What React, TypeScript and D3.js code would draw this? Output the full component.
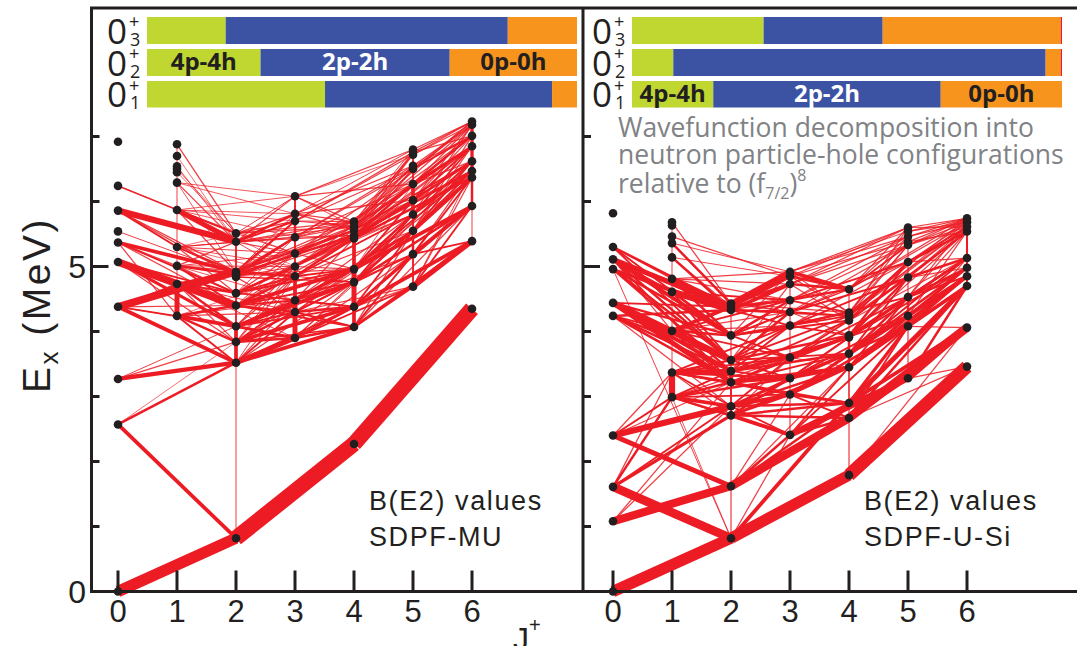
import React from "react";
import * as d3 from "d3";

// ---- Layout constants ----
const W = 1077;
const H = 646;
const RED = "#ed1c24";
const INK = "#231f20";
const GREEN = "#bfd730";
const BLUE = "#3c53a4";
const ORANGE = "#f7941d";
const GRAY = "#808285";

// ---- Axis data ----
const spins = [0, 1, 2, 3, 4, 5, 6];
const energyTicks = [1, 2, 3, 4, 5, 6, 7];
const energyLabels = [0, 5];

// ---- Configuration decomposition of the 0+ states ----
const configNames = ["4p-4h", "2p-2h", "0p-0h", "other"];
const configColors = [GREEN, BLUE, ORANGE, RED];
const stateNames = ["3", "2", "1"]; // rows from top: 0+_3, 0+_2, 0+_1
const decompMU = [
  [0.183, 0.656, 0.161, 0],
  [0.264, 0.44, 0.296, 0],
  [0.414, 0.528, 0.058, 0],
];
const decompSi = [
  [0.306, 0.277, 0.414, 0.003],
  [0.096, 0.866, 0.035, 0.003],
  [0.189, 0.529, 0.282, 0],
];

// ---- Level energies (MeV), indexed by J ----
const levelsMU = [
  [0, 2.57, 3.27, 4.38, 5.07, 5.37, 5.54, 5.86, 6.24, 6.92],
  [4.24, 4.73, 5.01, 5.3, 5.87, 6.29, 6.45, 6.5, 6.54, 6.7, 6.88],
  [0.82, 3.52, 3.84, 4.08, 4.4, 4.59, 4.84, 4.88, 4.92, 5.38, 5.51],
  [3.9, 4.3, 4.48, 4.85, 5.0, 5.2, 5.45, 5.7, 5.81, 6.08],
  [2.27, 4.07, 4.38, 4.76, 4.96, 5.43, 5.48, 5.56, 5.62, 5.69],
  [4.69, 5.19, 5.55, 5.8, 6.02, 6.27, 6.5, 6.55, 6.72, 6.76, 6.8],
  [4.35, 5.39, 5.93, 6.37, 6.47, 6.62, 6.85, 7.01, 7.18, 7.23],
];
const levelsSi = [
  [0, 1.08, 1.61, 2.4, 4.24, 4.44, 4.96, 5.11, 5.3, 5.82],
  [2.99, 3.37, 4.01, 4.61, 4.81, 5.14, 5.36, 5.46, 5.63, 5.68],
  [0.82, 1.62, 2.71, 2.85, 3.22, 3.39, 3.56, 3.94, 4.33, 4.38, 4.43],
  [2.41, 3.03, 3.28, 3.6, 4.09, 4.3, 4.48, 4.73, 4.85, 4.92],
  [1.79, 2.67, 2.9, 3.45, 3.66, 3.91, 3.94, 4.17, 4.24, 4.29, 4.65],
  [3.28, 4.08, 4.24, 4.53, 4.83, 5.07, 5.33, 5.38, 5.46, 5.54, 5.6],
  [3.46, 4.06, 4.7, 4.85, 4.98, 5.13, 5.54, 5.61, 5.68, 5.74],
];

// ---- E2 transitions: [J_i, E_i, J_f, E_f, relative B(E2)] ----
type Trans = [number, number, number, number, number];
const transMU: Trans[] = [
  // yrast band and low-lying 0+ states
  [0, 0, 2, 0.82, 9], [2, 0.82, 4, 2.27, 12.5], [4, 2.27, 6, 4.35, 12.5],
  [0, 2.57, 2, 0.82, 3], [0, 2.57, 2, 3.52, 2], [0, 2.57, 2, 3.84, 0.6],
  [0, 3.27, 2, 3.52, 3.5], [0, 3.27, 2, 3.84, 1], [0, 3.27, 2, 4.08, 0.8],
  [2, 0.82, 2, 3.52, 0.8],
  // J = 0, 1 -> J = 1, 2
  [0, 4.38, 2, 4.92, 6], [0, 4.38, 2, 3.52, 3], [0, 4.38, 1, 4.24, 1.2], [0, 4.38, 2, 4.08, 1],
  [0, 5.07, 2, 4.4, 6], [0, 5.07, 2, 4.08, 2.5], [0, 5.07, 1, 4.73, 2], [0, 5.07, 2, 4.59, 1.5],
  [0, 5.37, 2, 4.92, 3], [0, 5.37, 2, 4.59, 1.5], [0, 5.37, 1, 5.01, 1],
  [0, 5.86, 2, 5.38, 5], [0, 5.86, 1, 5.3, 1.5], [0, 5.86, 2, 4.84, 1],
  [0, 6.24, 2, 5.51, 1], [0, 5.54, 2, 4.88, 0.8],
  [0, 5.86, 2, 4.92, 1], [0, 5.07, 2, 3.84, 1], [0, 5.37, 2, 4.4, 1], [0, 4.38, 2, 4.4, 1],
  [0, 4.38, 1, 4.73, 1.5], [0, 6.24, 1, 5.87, 1], [0, 5.37, 1, 4.24, 1],
  [1, 6.88, 2, 5.51, 1], [1, 6.7, 2, 5.38, 0.6], [1, 6.29, 2, 5.38, 1], [1, 6.45, 2, 5.51, 0.6],
  [1, 5.87, 2, 5.38, 4], [1, 5.87, 2, 5.51, 1.5], [1, 5.3, 2, 4.92, 1.5], [1, 5.3, 2, 4.59, 1],
  [1, 5.01, 2, 4.88, 2], [1, 5.01, 2, 4.4, 1.5], [1, 4.73, 2, 4.4, 3], [1, 4.73, 2, 4.08, 2],
  [1, 4.73, 2, 4.92, 2], [1, 4.24, 2, 4.08, 3], [1, 4.24, 2, 3.84, 2], [1, 4.24, 2, 4.4, 2],
  [1, 4.24, 1, 4.73, 4], [1, 4.73, 1, 6.88, 0.8],
  [1, 5.87, 2, 4.92, 1], [1, 5.3, 2, 5.38, 1], [1, 5.3, 2, 4.88, 1], [1, 5.01, 2, 4.59, 1],
  [1, 5.01, 2, 5.38, 1], [1, 4.73, 2, 4.59, 1.5], [1, 4.24, 2, 3.52, 1.5], [1, 4.73, 2, 3.84, 1],
  [1, 6.29, 2, 4.92, 0.7], [1, 6.5, 2, 5.51, 0.7], [1, 6.54, 2, 5.38, 0.7],
  // J = 1 -> J = 3
  [1, 5.87, 3, 5.81, 0.7], [1, 5.87, 3, 5.7, 0.7], [1, 5.87, 3, 5.45, 0.7], [1, 5.87, 3, 6.08, 0.7],
  [1, 5.87, 3, 5.2, 0.6], [1, 5.3, 3, 5.45, 0.8], [1, 5.3, 3, 5.2, 0.8], [1, 5.3, 3, 5.0, 0.7],
  [1, 5.3, 3, 4.85, 0.6], [1, 5.01, 3, 4.85, 1], [1, 5.01, 3, 5.0, 0.8], [1, 5.01, 3, 4.48, 0.7],
  [1, 4.73, 3, 4.48, 1], [1, 4.73, 3, 4.3, 0.8], [1, 4.73, 3, 5.2, 0.7],
  [1, 4.24, 3, 4.3, 1], [1, 4.24, 3, 3.9, 1], [1, 4.24, 3, 4.48, 0.8],
  [1, 6.29, 3, 6.08, 0.7], [1, 6.29, 3, 5.81, 0.7], [1, 5.87, 3, 5.0, 0.6], [1, 5.3, 3, 5.7, 0.6],
  [1, 5.01, 3, 5.2, 0.8], [1, 4.73, 3, 3.9, 0.8], [1, 4.24, 3, 4.85, 0.6],
  // J = 2 -> J = 3, 4
  [2, 3.52, 2, 5.51, 1.5], [2, 3.52, 2, 4.08, 3], [2, 3.52, 3, 3.9, 4], [2, 3.52, 4, 4.07, 3],
  [2, 3.52, 3, 4.3, 1.5], [2, 3.84, 4, 4.38, 3], [2, 3.84, 3, 4.3, 2], [2, 3.84, 3, 3.9, 2],
  [2, 4.08, 4, 4.76, 3], [2, 4.08, 3, 4.48, 2], [2, 4.08, 3, 3.9, 2.5],
  [2, 4.4, 4, 4.96, 3], [2, 4.4, 3, 4.85, 2], [2, 4.4, 3, 4.3, 1.5],
  [2, 4.59, 3, 5.0, 2], [2, 4.59, 4, 5.43, 1], [2, 4.84, 3, 4.3, 1],
  [2, 4.88, 4, 5.48, 2], [2, 4.88, 3, 5.45, 2], [2, 4.92, 3, 5.7, 1.5], [2, 4.92, 4, 5.56, 1.5],
  [2, 4.92, 3, 4.85, 2], [2, 5.38, 3, 5.81, 2], [2, 5.38, 3, 6.08, 1], [2, 5.38, 3, 5.2, 1],
  [2, 5.38, 4, 5.62, 1], [2, 5.51, 4, 5.69, 1], [2, 5.51, 3, 6.08, 0.8],
  [2, 4.4, 4, 4.07, 1.5], [2, 4.59, 4, 4.38, 1], [2, 4.84, 4, 4.76, 1.2], [2, 3.84, 4, 4.07, 1.2],
  [2, 3.52, 3, 4.48, 1], [2, 3.52, 3, 4.85, 0.8], [2, 3.84, 3, 4.48, 1.5], [2, 3.84, 3, 4.85, 1],
  [2, 3.84, 3, 5.0, 0.8], [2, 4.08, 3, 4.3, 1.5], [2, 4.08, 3, 4.85, 1], [2, 4.08, 3, 5.0, 1],
  [2, 4.4, 3, 4.48, 1.5], [2, 4.4, 3, 5.0, 1], [2, 4.4, 3, 5.2, 0.8], [2, 4.59, 3, 4.48, 1],
  [2, 4.59, 3, 4.85, 1.5], [2, 4.59, 3, 5.2, 1], [2, 4.59, 3, 5.45, 0.8], [2, 4.84, 3, 5.0, 1],
  [2, 4.84, 3, 5.2, 1], [2, 4.84, 3, 5.45, 1], [2, 4.88, 3, 4.85, 1], [2, 4.88, 3, 5.7, 1],
  [2, 4.92, 3, 5.45, 1], [2, 4.92, 3, 5.81, 0.8], [2, 5.38, 3, 5.45, 1], [2, 5.38, 3, 5.7, 1.5],
  [2, 5.51, 3, 5.81, 1], [2, 5.51, 3, 5.7, 1], [2, 5.38, 3, 4.85, 0.8], [2, 5.51, 3, 5.2, 0.8],
  [2, 3.52, 4, 4.38, 1.5], [2, 3.84, 4, 4.76, 1.5], [2, 4.08, 4, 4.38, 1.5], [2, 4.08, 4, 4.96, 1],
  [2, 4.4, 4, 4.76, 1.5], [2, 4.4, 4, 5.43, 1], [2, 4.59, 4, 4.96, 1.5], [2, 4.59, 4, 5.48, 1],
  [2, 4.84, 4, 5.43, 1], [2, 4.84, 4, 5.56, 1], [2, 4.88, 4, 4.96, 1], [2, 4.92, 4, 5.62, 1],
  [2, 4.92, 4, 5.69, 1], [2, 5.38, 4, 5.48, 1], [2, 5.38, 4, 5.69, 1], [2, 5.51, 4, 5.62, 1],
  [2, 3.52, 4, 4.76, 1], [2, 3.84, 4, 4.96, 1],
  // J = 3 -> J = 4, 5
  [3, 3.9, 3, 4.48, 4], [3, 4.48, 3, 6.08, 1.5], [3, 4.48, 3, 4.85, 3], [3, 5.45, 3, 5.81, 2],
  [3, 3.9, 4, 4.07, 2], [3, 3.9, 5, 4.69, 1.5],
  [3, 4.3, 4, 4.38, 2], [3, 4.3, 4, 4.76, 1.5], [3, 4.48, 4, 4.96, 2], [3, 4.85, 4, 5.43, 1.5],
  [3, 5.0, 4, 5.48, 1.5], [3, 5.2, 4, 5.56, 1], [3, 5.45, 4, 5.62, 1], [3, 5.7, 4, 5.69, 1],
  [3, 4.85, 4, 4.76, 1], [3, 5.0, 4, 4.96, 1],
  [3, 3.9, 4, 4.38, 2], [3, 3.9, 4, 4.76, 1], [3, 4.3, 4, 4.07, 1.5], [3, 4.3, 4, 4.96, 1],
  [3, 4.48, 4, 4.38, 1.5], [3, 4.48, 4, 4.76, 1.5], [3, 4.48, 4, 5.43, 1], [3, 4.85, 4, 4.96, 1.5],
  [3, 4.85, 4, 5.48, 1], [3, 5.0, 4, 5.43, 1], [3, 5.0, 4, 5.56, 1], [3, 5.2, 4, 4.96, 1],
  [3, 5.2, 4, 5.43, 1], [3, 5.2, 4, 5.62, 1], [3, 5.45, 4, 5.48, 1], [3, 5.45, 4, 5.69, 1],
  [3, 5.7, 4, 5.62, 1], [3, 5.81, 4, 5.69, 1], [3, 5.81, 4, 5.56, 1], [3, 6.08, 4, 5.69, 1],
  [3, 6.08, 4, 5.62, 0.8],
  [3, 5.81, 5, 6.02, 1], [3, 6.08, 5, 6.27, 1],
  [3, 5.45, 5, 6.5, 1], [3, 5.7, 5, 6.76, 1], [3, 5.81, 5, 6.8, 0.8], [3, 5.0, 5, 5.8, 1],
  [3, 4.85, 5, 5.55, 1], [3, 4.48, 5, 5.19, 1], [3, 4.3, 5, 4.69, 1], [3, 5.2, 5, 6.02, 0.8],
  [3, 6.08, 5, 6.72, 0.7],
  [3, 3.9, 5, 5.19, 1], [3, 4.3, 5, 5.19, 1], [3, 4.3, 5, 5.55, 1], [3, 4.48, 5, 5.55, 1.5],
  [3, 4.48, 5, 5.8, 1], [3, 4.85, 5, 5.8, 1.5], [3, 4.85, 5, 6.02, 1], [3, 5.0, 5, 6.02, 1],
  [3, 5.0, 5, 6.27, 1], [3, 5.2, 5, 6.27, 1], [3, 5.2, 5, 6.5, 1], [3, 5.45, 5, 6.27, 1],
  [3, 5.45, 5, 6.55, 1], [3, 5.7, 5, 6.5, 1], [3, 5.7, 5, 6.72, 1], [3, 5.81, 5, 6.55, 1],
  [3, 6.08, 5, 6.8, 1], [3, 3.9, 5, 5.55, 0.8],
  // J = 4 -> J = 5, 6
  [4, 4.07, 4, 5.69, 3], [4, 4.38, 4, 4.96, 4], [4, 4.07, 5, 4.69, 2], [4, 4.07, 6, 5.39, 2],
  [4, 4.38, 5, 5.19, 2], [4, 4.38, 6, 5.39, 3], [4, 4.76, 5, 5.55, 2], [4, 4.76, 6, 5.93, 2],
  [4, 4.96, 6, 5.93, 3], [4, 4.96, 5, 5.8, 2], [4, 5.43, 6, 6.37, 2], [4, 5.48, 6, 6.47, 2],
  [4, 5.56, 6, 6.62, 1.5], [4, 5.62, 6, 6.85, 1.5], [4, 5.69, 6, 7.01, 1], [4, 5.43, 5, 6.02, 1.5],
  [4, 5.48, 5, 6.27, 1.5], [4, 5.56, 5, 6.5, 1], [4, 5.62, 5, 6.55, 1], [4, 5.69, 5, 6.72, 1],
  [4, 5.69, 5, 6.8, 0.8], [4, 5.48, 5, 6.76, 0.7], [4, 4.96, 5, 6.27, 0.7], [4, 4.38, 5, 4.69, 1],
  [4, 4.07, 5, 5.19, 1.5], [4, 4.38, 5, 5.55, 1.5], [4, 4.76, 5, 5.19, 1.5], [4, 4.76, 5, 5.8, 1.5],
  [4, 4.96, 5, 5.55, 1.5], [4, 4.96, 5, 6.02, 1.5], [4, 5.43, 5, 5.8, 1], [4, 5.43, 5, 6.27, 1],
  [4, 5.48, 5, 6.02, 1], [4, 5.56, 5, 6.27, 1], [4, 5.56, 5, 6.72, 1], [4, 5.62, 5, 6.76, 1],
  [4, 5.69, 5, 6.55, 1], [4, 5.43, 5, 6.5, 1], [4, 4.07, 5, 5.55, 1],
  [4, 4.07, 6, 5.93, 1], [4, 4.38, 6, 5.93, 1.5], [4, 4.76, 6, 6.37, 1.5], [4, 4.96, 6, 6.47, 1.5],
  [4, 5.43, 6, 6.62, 1.5], [4, 5.43, 6, 6.85, 1], [4, 5.48, 6, 6.85, 1], [4, 5.56, 6, 7.01, 1],
  [4, 5.62, 6, 7.18, 1], [4, 5.69, 6, 7.23, 1], [4, 5.48, 6, 7.01, 1], [4, 5.56, 6, 6.47, 1],
  [4, 4.76, 6, 6.62, 1], [4, 4.96, 6, 6.37, 1],
  // J = 5 -> J = 6
  [5, 4.69, 6, 5.39, 4], [5, 4.69, 6, 5.93, 1.5], [5, 5.19, 6, 5.93, 3], [5, 5.19, 6, 5.39, 1.5],
  [5, 5.55, 6, 6.37, 3], [5, 5.8, 6, 6.47, 2], [5, 6.02, 6, 6.62, 2], [5, 6.27, 6, 6.85, 2],
  [5, 6.5, 6, 7.01, 1.5], [5, 6.55, 6, 7.18, 1], [5, 6.72, 6, 7.23, 1], [5, 6.8, 6, 7.23, 1],
  [5, 6.02, 6, 7.01, 1], [5, 5.55, 6, 6.85, 1], [5, 5.8, 6, 7.18, 1], [5, 5.19, 6, 6.47, 1],
  [5, 4.69, 6, 6.37, 1], [5, 5.19, 6, 6.37, 1.5], [5, 5.55, 6, 6.47, 1.5], [5, 5.55, 6, 6.62, 1.5],
  [5, 5.8, 6, 6.62, 1.5], [5, 5.8, 6, 6.85, 1.5], [5, 6.02, 6, 6.85, 1.5], [5, 6.02, 6, 7.18, 1],
  [5, 6.27, 6, 7.01, 1.5], [5, 6.27, 6, 7.18, 1], [5, 6.5, 6, 7.18, 1], [5, 6.5, 6, 7.23, 1],
  [5, 6.55, 6, 7.01, 1], [5, 6.72, 6, 7.18, 1], [5, 6.76, 6, 7.23, 1], [5, 6.76, 6, 7.01, 1],
  [5, 4.69, 6, 6.47, 0.8], [5, 5.55, 6, 7.01, 1], [5, 6.27, 6, 6.62, 1],
  [5, 4.69, 5, 6.8, 1.5], [5, 5.8, 5, 6.27, 3], [5, 5.19, 5, 5.55, 2],
  [6, 5.39, 6, 5.93, 0.8], [6, 5.93, 6, 7.23, 2], [6, 6.37, 6, 7.23, 2.5],
];

const transSi: Trans[] = [
  // yrast band and low-lying 0+ states
  [0, 0, 2, 0.82, 9], [2, 0.82, 4, 1.79, 9], [4, 1.79, 6, 3.46, 10.5],
  [0, 1.08, 2, 1.62, 6.5], [0, 1.61, 2, 0.82, 7], [0, 1.61, 2, 2.71, 2.5], [0, 1.61, 1, 2.99, 2],
  [0, 1.08, 2, 2.85, 1], [0, 2.4, 2, 2.85, 5], [0, 2.4, 2, 1.62, 4], [0, 2.4, 1, 2.99, 1.5],
  [0, 2.4, 2, 3.22, 1], [0, 4.96, 2, 0.82, 0.8],
  [0, 2.4, 1, 3.37, 1], [0, 1.61, 2, 2.85, 1.5], [0, 1.08, 2, 3.22, 1], [0, 1.61, 1, 3.37, 1],
  // J = 0 -> J = 1, 2
  [0, 5.3, 2, 4.38, 2], [0, 5.3, 1, 4.81, 1],
  [0, 5.11, 2, 4.38, 4], [0, 5.11, 2, 3.94, 3], [0, 5.11, 2, 3.56, 2], [0, 5.11, 2, 3.22, 1.5],
  [0, 4.96, 2, 3.39, 2], [0, 4.96, 1, 4.61, 1.5], [0, 4.44, 2, 3.56, 5], [0, 4.44, 2, 3.22, 4],
  [0, 4.44, 2, 4.38, 1.5], [0, 4.24, 2, 4.33, 2], [0, 4.24, 2, 3.39, 2], [0, 4.24, 2, 2.85, 1],
  [0, 5.3, 2, 3.94, 1.5], [0, 5.11, 2, 4.33, 2], [0, 4.96, 2, 3.94, 2], [0, 4.96, 2, 3.56, 2],
  [0, 4.44, 2, 3.94, 2], [0, 4.44, 2, 3.39, 3], [0, 4.24, 2, 3.56, 2], [0, 4.24, 2, 3.22, 2],
  [0, 5.3, 2, 3.56, 1.5], [0, 4.96, 2, 4.33, 2], [0, 5.11, 1, 4.61, 1.5], [0, 5.11, 1, 4.01, 1],
  [0, 4.44, 1, 4.01, 2], [0, 4.24, 1, 4.01, 1.5],
  // J = 1 -> J = 2, 3
  [1, 5.46, 3, 4.85, 1], [1, 5.14, 2, 4.38, 1], [1, 4.81, 2, 4.38, 4], [1, 4.61, 2, 4.33, 5],
  [1, 4.81, 3, 4.48, 1], [1, 4.61, 3, 4.3, 1], [1, 4.01, 2, 3.56, 2], [1, 4.01, 2, 4.38, 3],
  [1, 4.01, 3, 4.48, 1.5], [1, 4.01, 3, 4.09, 1], [1, 3.37, 2, 3.39, 4], [1, 3.37, 2, 3.22, 2],
  [1, 3.37, 3, 3.6, 1.5], [1, 3.37, 3, 4.09, 1.5], [1, 2.99, 2, 2.85, 3], [1, 2.99, 2, 3.22, 2],
  [1, 2.99, 3, 3.28, 2], [1, 2.99, 3, 3.03, 1.5], [1, 2.99, 1, 3.37, 5], [1, 3.37, 1, 5.68, 0.8],
  [1, 2.99, 2, 0.82, 0.7],
  [1, 5.68, 2, 4.43, 1], [1, 5.36, 2, 4.43, 2], [1, 5.14, 2, 4.33, 2], [1, 4.81, 2, 3.94, 2],
  [1, 4.61, 2, 3.94, 2], [1, 4.61, 2, 3.56, 1.5], [1, 4.01, 2, 3.94, 2], [1, 4.01, 2, 3.22, 1.5],
  [1, 3.37, 2, 3.56, 2], [1, 3.37, 2, 2.85, 1.5], [1, 2.99, 2, 2.71, 2], [1, 2.99, 2, 3.39, 1.5],
  [1, 3.37, 2, 2.71, 1],
  [1, 4.81, 3, 4.73, 1], [1, 4.81, 3, 4.92, 1], [1, 4.61, 3, 4.48, 1.5], [1, 4.01, 3, 3.6, 1.5],
  [1, 4.01, 3, 4.3, 1], [1, 3.37, 3, 3.28, 2], [1, 3.37, 3, 3.03, 1.5], [1, 2.99, 3, 3.6, 1],
  [1, 2.99, 3, 2.41, 1.5], [1, 5.14, 3, 4.85, 0.8], [1, 5.36, 3, 4.92, 0.8],
  // J = 2 -> J = 3, 4
  [2, 0.82, 2, 4.43, 1], [2, 3.22, 2, 3.39, 3], [2, 0.82, 4, 2.9, 3], [2, 0.82, 3, 2.41, 1],
  [2, 1.62, 4, 2.67, 7], [2, 1.62, 3, 2.41, 2], [2, 1.62, 3, 3.03, 1], [2, 2.71, 3, 2.41, 3],
  [2, 2.71, 4, 2.9, 2], [2, 2.71, 3, 3.28, 2], [2, 2.85, 3, 3.03, 3], [2, 2.85, 4, 3.45, 2],
  [2, 2.85, 3, 3.6, 1.5], [2, 3.22, 4, 3.45, 3], [2, 3.22, 3, 3.28, 2], [2, 3.22, 4, 3.66, 1.5],
  [2, 3.39, 4, 3.91, 2], [2, 3.39, 3, 4.09, 1.5], [2, 3.56, 3, 4.3, 2], [2, 3.56, 4, 3.94, 2],
  [2, 3.94, 3, 4.48, 2], [2, 3.94, 4, 4.17, 1.5], [2, 4.33, 3, 4.73, 3], [2, 4.38, 3, 4.85, 3],
  [2, 4.43, 3, 4.92, 4], [2, 4.38, 4, 4.65, 1], [2, 4.33, 4, 4.24, 1.5], [2, 3.94, 4, 4.29, 1],
  [2, 3.56, 3, 3.6, 1], [2, 2.71, 2, 3.39, 1.5],
  [2, 4.43, 3, 4.85, 2], [2, 4.43, 3, 4.73, 2], [2, 4.38, 3, 4.48, 2], [2, 4.33, 3, 4.3, 2],
  [2, 4.33, 3, 4.09, 1.5], [2, 3.94, 3, 4.09, 2], [2, 3.94, 3, 4.3, 1.5], [2, 3.94, 3, 3.6, 1.5],
  [2, 3.56, 3, 4.09, 1.5], [2, 3.56, 3, 3.28, 1.5], [2, 3.39, 3, 3.6, 2], [2, 3.39, 3, 3.28, 1.5],
  [2, 3.22, 3, 3.6, 1.5], [2, 3.22, 3, 3.03, 1.5], [2, 2.85, 3, 3.28, 2], [2, 2.85, 3, 2.41, 1.5],
  [2, 2.71, 3, 3.03, 2], [2, 3.39, 3, 4.48, 1], [2, 3.56, 3, 4.73, 1], [2, 3.94, 3, 4.92, 1],
  [2, 4.43, 3, 4.3, 1], [2, 2.71, 3, 3.6, 1],
  [2, 2.71, 4, 3.45, 2], [2, 2.85, 4, 2.9, 2], [2, 2.85, 4, 3.66, 1.5], [2, 3.22, 4, 3.91, 1.5],
  [2, 3.39, 4, 3.66, 2], [2, 3.39, 4, 4.17, 1.5], [2, 3.56, 4, 4.24, 1.5], [2, 3.56, 4, 3.66, 1.5],
  [2, 3.94, 4, 4.65, 1], [2, 4.33, 4, 4.65, 1], [2, 4.43, 4, 4.29, 1], [2, 3.22, 4, 2.9, 1.5],
  [2, 2.71, 4, 2.67, 2], [2, 1.62, 4, 2.9, 2], [2, 1.62, 4, 3.45, 1],
  // J = 3 -> J = 4, 5
  [3, 2.41, 5, 3.28, 5], [3, 2.41, 4, 2.67, 2], [3, 2.41, 4, 2.9, 2], [3, 2.41, 3, 4.92, 1],
  [3, 3.03, 4, 3.45, 2], [3, 3.03, 5, 4.08, 2], [3, 3.28, 4, 3.66, 2], [3, 3.28, 5, 4.24, 1.5],
  [3, 3.6, 4, 3.91, 1.5], [3, 3.6, 5, 4.53, 1.5], [3, 4.09, 4, 4.24, 1.5], [3, 4.09, 5, 4.83, 1.5],
  [3, 4.3, 5, 5.07, 1], [3, 4.48, 5, 5.33, 1], [3, 4.73, 5, 5.46, 1], [3, 4.85, 5, 5.6, 1],
  [3, 4.92, 4, 4.65, 3], [3, 4.85, 4, 4.29, 1], [3, 4.73, 4, 4.17, 1], [3, 4.3, 4, 3.94, 1],
  [3, 4.92, 5, 5.54, 0.8], [3, 3.6, 4, 3.45, 1],
  [3, 2.41, 4, 3.45, 1.5], [3, 3.03, 4, 2.9, 2], [3, 3.03, 4, 3.66, 2], [3, 3.28, 4, 3.45, 2],
  [3, 3.28, 4, 3.91, 1.5], [3, 3.6, 4, 3.94, 1.5], [3, 3.6, 4, 4.17, 1.5], [3, 4.09, 4, 3.94, 1.5],
  [3, 4.09, 4, 4.29, 1.5], [3, 4.3, 4, 4.24, 1.5], [3, 4.3, 4, 4.65, 1], [3, 4.48, 4, 4.29, 1.5],
  [3, 4.48, 4, 4.65, 1.5], [3, 4.73, 4, 4.65, 2], [3, 4.85, 4, 4.65, 2], [3, 4.92, 4, 4.29, 1],
  [3, 3.03, 4, 2.67, 1.5],
  [3, 2.41, 5, 4.08, 1.5], [3, 3.03, 5, 4.24, 1.5], [3, 3.28, 5, 4.08, 2], [3, 3.28, 5, 4.53, 1.5],
  [3, 3.6, 5, 4.24, 1.5], [3, 3.6, 5, 4.83, 1], [3, 4.09, 5, 4.53, 1.5], [3, 4.09, 5, 5.07, 1],
  [3, 4.3, 5, 4.83, 1.5], [3, 4.3, 5, 5.33, 1], [3, 4.48, 5, 5.07, 1.5], [3, 4.48, 5, 5.46, 1],
  [3, 4.73, 5, 5.33, 1], [3, 4.73, 5, 5.6, 1], [3, 4.85, 5, 5.38, 1], [3, 4.92, 5, 5.46, 1],
  [3, 4.92, 5, 5.6, 1],
  // J = 4 -> J = 5, 6
  [4, 1.79, 4, 4.65, 1], [4, 3.45, 4, 3.94, 2], [4, 2.67, 6, 4.06, 7], [4, 2.67, 5, 3.28, 3],
  [4, 2.9, 6, 4.7, 4], [4, 2.9, 5, 4.08, 2.5], [4, 3.45, 6, 4.85, 3], [4, 3.45, 5, 4.24, 2],
  [4, 3.66, 6, 4.98, 2], [4, 3.66, 5, 4.53, 2], [4, 3.91, 6, 5.13, 2], [4, 3.91, 5, 4.83, 1.5],
  [4, 3.94, 5, 5.07, 1.5], [4, 4.17, 6, 5.54, 1.5], [4, 4.24, 5, 5.33, 1], [4, 4.29, 6, 5.61, 1],
  [4, 4.65, 6, 5.74, 1], [4, 4.65, 5, 5.6, 1], [4, 4.29, 5, 5.46, 1], [4, 2.9, 4, 3.45, 1],
  [4, 2.9, 5, 3.28, 2], [4, 3.45, 5, 4.08, 2], [4, 3.45, 5, 4.53, 1.5], [4, 3.66, 5, 4.24, 2],
  [4, 3.66, 5, 4.83, 1.5], [4, 3.91, 5, 4.53, 1.5], [4, 3.91, 5, 5.07, 1], [4, 3.94, 5, 4.83, 1.5],
  [4, 4.17, 5, 4.83, 1.5], [4, 4.17, 5, 5.07, 1.5], [4, 4.24, 5, 5.07, 1.5], [4, 4.29, 5, 5.33, 1],
  [4, 4.65, 5, 5.33, 1.5], [4, 4.65, 5, 5.46, 1], [4, 4.24, 5, 5.6, 1], [4, 2.67, 5, 4.08, 1.5],
  [4, 2.67, 6, 4.7, 2], [4, 2.9, 6, 4.06, 3], [4, 3.45, 6, 4.7, 2], [4, 3.45, 6, 4.98, 1.5],
  [4, 3.66, 6, 4.85, 2], [4, 3.66, 6, 5.13, 1.5], [4, 3.91, 6, 4.98, 1.5], [4, 3.94, 6, 5.13, 1.5],
  [4, 3.94, 6, 5.54, 1], [4, 4.17, 6, 5.13, 1], [4, 4.24, 6, 5.61, 1], [4, 4.24, 6, 5.68, 1],
  [4, 4.29, 6, 5.74, 1], [4, 4.65, 6, 5.68, 1], [4, 1.79, 6, 4.06, 1], [4, 2.67, 6, 3.46, 1],
  // J = 5 -> J = 6
  [5, 3.28, 6, 4.06, 5], [5, 3.28, 6, 3.46, 1], [5, 3.28, 5, 4.08, 1], [5, 4.08, 5, 4.53, 2],
  [5, 4.08, 6, 4.7, 3], [5, 4.08, 6, 4.06, 1], [5, 4.24, 6, 4.85, 3], [5, 4.53, 6, 4.98, 2],
  [5, 4.53, 6, 5.54, 1], [5, 4.83, 6, 5.13, 2], [5, 4.83, 6, 5.61, 1], [5, 5.07, 6, 5.54, 2],
  [5, 5.07, 6, 5.68, 1], [5, 5.33, 6, 5.74, 1], [5, 5.46, 6, 5.74, 1], [5, 5.6, 6, 5.74, 1],
  [5, 5.54, 6, 5.68, 1], [5, 4.24, 5, 5.6, 1], [6, 4.7, 6, 5.74, 1.5],
  [5, 3.28, 6, 4.7, 2], [5, 4.08, 6, 4.85, 2], [5, 4.08, 6, 5.13, 1], [5, 4.24, 6, 4.98, 2],
  [5, 4.24, 6, 5.54, 1], [5, 4.53, 6, 5.13, 1.5], [5, 4.53, 6, 4.85, 1.5], [5, 4.83, 6, 5.54, 1.5],
  [5, 4.83, 6, 4.98, 1], [5, 5.07, 6, 5.61, 1.5], [5, 5.07, 6, 5.13, 1], [5, 5.33, 6, 5.61, 1],
  [5, 5.33, 6, 5.68, 1], [5, 5.38, 6, 5.74, 1], [5, 5.38, 6, 5.54, 1], [5, 5.46, 6, 5.68, 1],
  [5, 5.54, 6, 5.74, 1], [5, 5.6, 6, 5.61, 1], [5, 4.53, 6, 5.68, 1],
  [6, 5.13, 6, 5.74, 1.5],
];

// ---- Shared scales ----
const yScale = d3.scaleLinear().domain([0, 7]).range([591.5, 136.5]);
const widthScale = d3.scaleLinear().domain([0, 1]).range([0, 1.25]);
const Y_AXIS_BOTTOM = yScale(0);
const FRAME_TOP = 8;

type PanelProps = {
  axisX: number;
  xRange: [number, number];
  levels: number[][];
  trans: Trans[];
  decomp: number[][];
  barRange: [number, number];
  labelRow: number;
  modelName: string;
  showTickLabelsY: boolean;
};

const BAR_ROWS: [number, number][] = [
  [17, 44],
  [49, 76],
  [81, 107.5],
];

const SANS = "'Liberation Sans', Arial, sans-serif";
const MYRIAD = "'Open Sans', sans-serif";

function Panel(p: PanelProps) {
  const x = d3.scaleLinear().domain([0, 6]).range(p.xRange);
  const bx = d3.scaleLinear().domain([0, 1]).range(p.barRange);
  const sorted = [...p.trans].sort((a, b) => a[4] - b[4]);

  return (
    <g>
      {/* configuration bars */}
      {p.decomp.map((row, ri) => {
        const ends = Array.from(d3.cumsum(row));
        const [y0, y1] = BAR_ROWS[ri];
        return (
          <g key={"bar" + ri}>
            {row.map((v, ci) => {
              const start = ci === 0 ? 0 : ends[ci - 1];
              if (v <= 0) return null;
              return (
                <rect
                  key={ci}
                  x={bx(start)}
                  y={y0}
                  width={bx(start + v) - bx(start)}
                  height={y1 - y0}
                  fill={configColors[ci]}
                />
              );
            })}
            <text x={p.barRange[0] - 40} y={y1 - 0.5} fontFamily={MYRIAD} fontSize={35} fill={INK}>0</text>
            <text x={p.barRange[0] - 18} y={y0 + 11} fontFamily={MYRIAD} fontSize={18} fill={INK}>+</text>
            <text x={p.barRange[0] - 17} y={y1 + 1.5} fontFamily={MYRIAD} fontSize={18} fill={INK}>{stateNames[ri]}</text>
            {ri === p.labelRow &&
              row.slice(0, 3).map((v, ci) => {
                const start = ci === 0 ? 0 : ends[ci - 1];
                return (
                  <text
                    key={"t" + ci}
                    x={bx(start + v / 2)}
                    y={y1 - 6}
                    textAnchor="middle"
                    fontFamily={MYRIAD}
                    fontWeight={700}
                    fontSize={24}
                    fill={ci === 1 ? "#ffffff" : INK}
                  >
                    {configNames[ci]}
                  </text>
                );
              })}
          </g>
        );
      })}

      {/* transitions */}
      {sorted.map((t, i) => (
        <line
          key={"tr" + i}
          x1={x(t[0])}
          y1={yScale(t[1])}
          x2={x(t[2])}
          y2={yScale(t[3])}
          stroke={RED}
          strokeWidth={widthScale(t[4])}
          strokeOpacity={t[4] < 1.2 ? 0.85 : 1}
          strokeLinecap="butt"
        />
      ))}

      {/* levels */}
      {p.levels.map((col, j) =>
        col.map((e, k) => (
          <circle key={`lv${j}-${k}`} cx={x(j)} cy={yScale(e)} r={4.3} fill={INK} />
        ))
      )}

      {/* y ticks */}
      {energyTicks.map((t) => (
        <line
          key={"yt" + t}
          x1={p.axisX}
          x2={p.axisX + (t === 5 ? 17 : 8)}
          y1={yScale(t)}
          y2={yScale(t)}
          stroke={INK}
          strokeWidth={3}
        />
      ))}
      {/* x ticks */}
      {spins.map((j) => (
        <g key={"xt" + j}>
          <line x1={x(j)} x2={x(j)} y1={Y_AXIS_BOTTOM} y2={Y_AXIS_BOTTOM - 21} stroke={INK} strokeWidth={3} />
          <text x={x(j)} y={622} textAnchor="middle" fontFamily={SANS} fontSize={31} fill={INK}>
            {j}
          </text>
        </g>
      ))}
      {p.showTickLabelsY &&
        energyLabels.map((e) => (
          <text key={"yl" + e} x={86} y={yScale(e) + 11.5} textAnchor="end" fontFamily={SANS} fontSize={32} fill={INK}>
            {e}
          </text>
        ))}

      {/* model label */}
      <text x={p.xRange[0] + 251} y={510} fontFamily={SANS} fontSize={27} letterSpacing={1.6} fill={INK}>
        B(E2) values
      </text>
      <text x={p.xRange[0] + 251} y={546} fontFamily={SANS} fontSize={27} letterSpacing={1.6} fill={INK}>
        {p.modelName}
      </text>
    </g>
  );
}

export default function App() {
  return (
    <svg
      width={W}
      height={H}
      viewBox={`0 0 ${W} ${H}`}
      style={{ position: "absolute", left: 0, top: 0, background: "#fff" }}
    >
      <rect x={0} y={0} width={W} height={H} fill="#fff" />
      <Panel
        axisX={91.5}
        xRange={[118, 472]}
        levels={levelsMU}
        trans={transMU}
        decomp={decompMU}
        barRange={[147, 577]}
        labelRow={1}
        modelName="SDPF-MU"
        showTickLabelsY={true}
      />
      <Panel
        axisX={583}
        xRange={[613, 967]}
        levels={levelsSi}
        trans={transSi}
        decomp={decompSi}
        barRange={[632, 1062]}
        labelRow={2}
        modelName="SDPF-U-Si"
        showTickLabelsY={false}
      />

      {/* frames */}
      <line x1={91.5} x2={91.5} y1={FRAME_TOP} y2={Y_AXIS_BOTTOM + 1.5} stroke={INK} strokeWidth={3} />
      <line x1={583} x2={583} y1={FRAME_TOP} y2={Y_AXIS_BOTTOM + 1.5} stroke={INK} strokeWidth={3} />
      <line x1={90} x2={W + 2} y1={FRAME_TOP} y2={FRAME_TOP} stroke={INK} strokeWidth={3} />
      <line x1={90} x2={W + 2} y1={Y_AXIS_BOTTOM} y2={Y_AXIS_BOTTOM} stroke={INK} strokeWidth={3} />

      {/* axis titles */}
      <text
        transform={`translate(50,305) rotate(-90)`}
        textAnchor="middle"
        fontFamily={SANS}
        fontSize={39}
        letterSpacing={2.5}
        fill={INK}
      >
        E<tspan fontSize={26} dy={8}>x</tspan>
        <tspan dy={-8}> (MeV)</tspan>
      </text>
      <text x={513} y={650} fontFamily={SANS} fontSize={32} fill={INK}>
        J<tspan fontSize={20} dy={-18}>+</tspan>
      </text>

      {/* decomposition note */}
      <g fontFamily={MYRIAD} fontSize={26.5} fill={GRAY}>
        <text x={618} y={137}>Wavefunction decomposition into</text>
        <text x={618} y={164}>neutron particle-hole configurations</text>
        <text x={618} y={193}>
          relative to (f<tspan fontSize={16} dy={6}>7/2</tspan>
          <tspan dy={-6}>)</tspan>
          <tspan fontSize={16} dy={-12}>8</tspan>
        </text>
      </g>
    </svg>
  );
}
